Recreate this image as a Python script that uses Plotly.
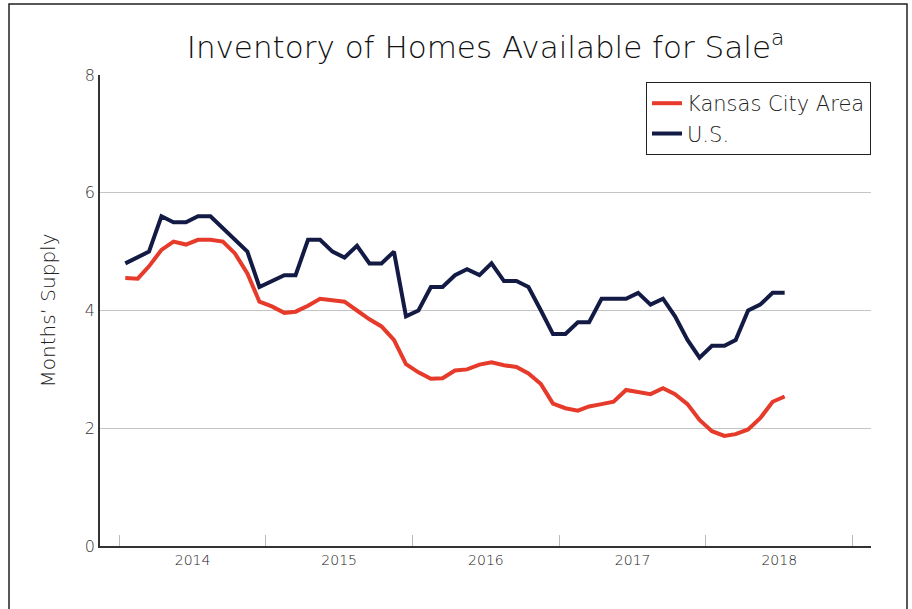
import plotly.graph_objects as go
import pandas as pd

# Monthly data Jan 2014 - Jul 2018
months = pd.date_range("2014-01-01", "2018-07-01", freq="MS") + pd.Timedelta(days=15)
kansas_city = [4.55, 4.54, 4.75, 5.03, 5.17, 5.12, 5.20, 5.20, 5.17, 4.97, 4.63, 4.15,
               4.07, 3.96, 3.98, 4.08, 4.20, 4.18, 4.15, 4.00, 3.85, 3.73, 3.50, 3.09,
               2.95, 2.84, 2.85, 2.98, 3.00, 3.08, 3.12, 3.07, 3.04, 2.93, 2.75, 2.42,
               2.34, 2.30, 2.37, 2.41, 2.45, 2.65, 2.61, 2.58, 2.68, 2.58, 2.41, 2.14,
               1.95, 1.87, 1.90, 1.98, 2.17, 2.45, 2.54]
us = [4.8, 4.9, 5.0, 5.6, 5.5, 5.5, 5.6, 5.6, 5.4, 5.2, 5.0, 4.4,
      4.5, 4.6, 4.6, 5.2, 5.2, 5.0, 4.9, 5.1, 4.8, 4.8, 5.0, 3.9,
      4.0, 4.4, 4.4, 4.6, 4.7, 4.6, 4.8, 4.5, 4.5, 4.4, 4.0, 3.6,
      3.6, 3.8, 3.8, 4.2, 4.2, 4.2, 4.3, 4.1, 4.2, 3.9, 3.5, 3.2,
      3.4, 3.4, 3.5, 4.0, 4.1, 4.3, 4.3]
series_names = ["Kansas City Area", "U.S."]
y_ticks = [0, 2, 4, 6, 8]

FONT = "DejaVu Sans"
fig = go.Figure()
fig.add_trace(go.Scatter(x=months, y=kansas_city, mode="lines", name=series_names[0],
                         line=dict(color="#E63A2A", width=4)))
fig.add_trace(go.Scatter(x=months, y=us, mode="lines", name=series_names[1],
                         line=dict(color="#131B45", width=4)))

fig.update_layout(
    width=912, height=609,
    margin=dict(l=100, r=41, t=75, b=63),
    paper_bgcolor="white", plot_bgcolor="white",
    font=dict(family=FONT, color="#222"),
    title=dict(text="Inventory of Homes Available for Sale<sup>a</sup>",
               x=0.5, xref="paper", xanchor="center",
               y=1 - 47 / 609, yref="container", yanchor="middle",
               font=dict(size=31, color="#111", family=FONT, weight=200)),
    legend=dict(x=1.0, xanchor="right", y=0.985, yanchor="top",
                bordercolor="#222", borderwidth=1, bgcolor="white",
                font=dict(size=21, color="#222", family=FONT, weight=200),
                itemwidth=30),
    showlegend=True,
)
fig.update_xaxes(
    type="date",
    range=["2013-11-14", "2019-02-16"],
    tick0="2014-01-01", dtick="M12", tickformat="%Y", ticklabelmode="period",
    ticks="inside", ticklen=11, tickcolor="#bbb", tickwidth=1,
    showgrid=False, showline=True, linecolor="#333", linewidth=2,
    tickfont=dict(size=14, color="#222", family=FONT, weight=200),
    zeroline=False,
)
fig.update_yaxes(
    range=[0, 8], tickvals=y_ticks, ticktext=[str(v) for v in y_ticks],
    showgrid=True, gridcolor="#c4c4c4", gridwidth=1,
    showline=True, linecolor="#333", linewidth=1.5,
    ticks="", tickfont=dict(size=16, color="#333", family=FONT, weight=200),
    title=dict(text="Months’ Supply", standoff=24,
               font=dict(size=20, color="#222", family=FONT, weight=200)),
    zeroline=False,
)
# outer frame
fig.add_shape(type="rect", xref="paper", yref="paper",
              x0=(9 - 100) / 771, x1=(907 - 100) / 771,
              y0=(546 - 640) / 471, y1=(546 - 4) / 471,
              line=dict(color="#222", width=1.5), fillcolor="rgba(0,0,0,0)", layer="below")

fig.write_html("out.html", config={"displayModeBar": False},
               post_script="document.body.style.margin='0px';")
